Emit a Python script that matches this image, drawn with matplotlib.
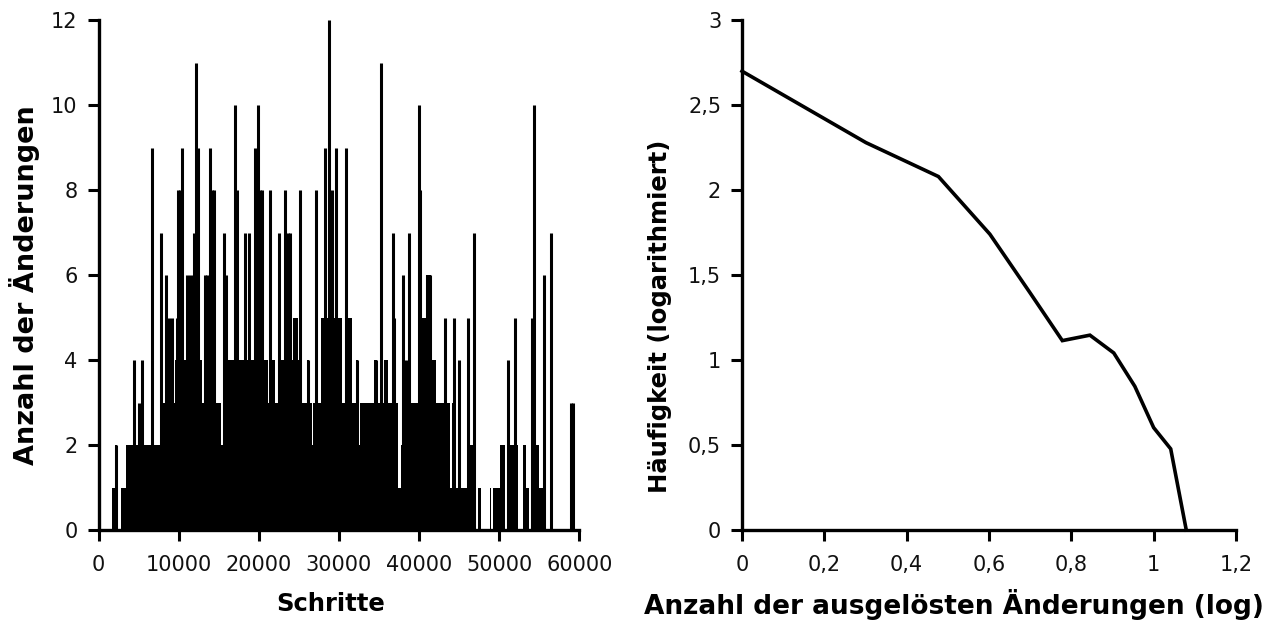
import numpy as np
import matplotlib
matplotlib.use("Agg")
import matplotlib.pyplot as plt

# ---------------- left panel data ----------------
# dense low-level background (segments: edges in steps, level = changes)
base_edges = [0, 1650, 2050, 2250, 2800, 3450, 7800, 9600, 12900, 13150, 14600,
              15300, 15600, 16000, 21100, 21350, 22000, 22500, 24300, 24850,
              25200, 26000, 26200, 26600, 26800, 27800, 30430, 30800, 31650,
              32100, 32350, 32650, 34400, 34800, 35650, 36050, 37400, 37700,
              37900, 40150, 40800, 41500, 42050, 43800, 44150, 44550, 44900,
              45200, 45950, 46900, 47400, 47750, 48800, 48950, 49150, 50100,
              50750, 51050, 52350, 52900, 53330, 53740, 54030, 54990, 55400,
              60000]
base_levels = [0, 1, 2, 0, 1, 2, 3, 4, 3, 4,
               3, 2, 3, 4, 3, 4, 3, 4, 5,
               4, 3, 4, 3, 2, 3, 5, 3, 5,
               3, 4, 2, 3, 4, 3, 4, 3, 1,
               2, 3, 5, 6, 4, 3, 1, 3, 1,
               2, 1, 2, 0, 1, 0, 1, 0, 1,
               2, 0, 2, 0, 2, 1, 0, 2, 1,
               0]

# individual spikes (step, number of changes)
spike_steps = [2160, 4470, 5050, 5470, 6710, 7790, 8410, 8780, 9150, 9740,
               9940, 10150, 10430, 11100, 11390, 11800, 11920, 12220, 12350,
               13300, 13550, 13870, 14200, 14450, 15610, 15950, 17060, 17250,
               18220, 18720, 19460, 19850, 20150, 20400, 21410, 22570, 23310,
               23650, 23900, 24550, 25180, 26080, 27120, 27950, 28240, 28780,
               29100, 29600, 30900, 32200, 34600, 35200, 35800, 36760, 36900,
               37970, 38300, 38710, 39950, 40150, 40450, 41000, 41300, 41750,
               43270, 44300, 45000, 46080, 46790, 51130, 51950, 54130, 54360,
               55570, 56390, 58900, 59230]
spike_counts = [2, 4, 3, 4, 9, 7, 6, 5, 5, 5,
                8, 8, 9, 6, 6, 6, 7, 11, 9,
                6, 6, 9, 8, 8, 7, 6, 10, 8,
                7, 7, 9, 10, 8, 8, 8, 7, 8,
                7, 7, 5, 8, 4, 8, 5, 9, 12,
                8, 9, 9, 4, 4, 11, 4, 7, 5,
                6, 4, 7, 10, 8, 5, 6, 6, 4,
                5, 5, 4, 5, 7, 4, 5, 5, 10,
                6, 7, 3, 3]

left_xticks = [0, 10000, 20000, 30000, 40000, 50000, 60000]
left_yticks = [0, 2, 4, 6, 8, 10, 12]

# ---------------- right panel data ----------------
changes = [1, 2, 3, 4, 5, 6, 7, 8, 9, 10, 11, 12]
frequency = [500, 190, 120, 55, 25, 13, 14, 11, 7, 4, 3, 1]

right_xticks = [0, 0.2, 0.4, 0.6, 0.8, 1.0, 1.2]
right_xlabels = ["0", "0,2", "0,4", "0,6", "0,8", "1", "1,2"]
right_yticks = [0, 0.5, 1, 1.5, 2, 2.5, 3]
right_ylabels = ["0", "0,5", "1", "1,5", "2", "2,5", "3"]

# ---------------- figure ----------------
plt.rcParams['font.family'] = ['DejaVu Sans']
W, H = 1274, 620
fig = plt.figure(figsize=(W / 100, H / 100), dpi=100)

ax1 = fig.add_axes([98.5 / W, 90 / H, 481 / W, 510 / H])
ax2 = fig.add_axes([742 / W, 90 / H, 494 / W, 510 / H])

ax1.stairs(base_levels, base_edges, fill=True, color='black', lw=0)
ax1.vlines(spike_steps, 0, spike_counts, color='black', lw=2.2, capstyle='butt')
ax1.set_xlim(0, 60000)
ax1.set_ylim(0, 12)
ax1.set_xticks(left_xticks)
ax1.set_xticklabels([str(v) for v in left_xticks])
ax1.set_yticks(left_yticks)
ax1.set_xlabel("Schritte", fontsize=17.5, fontweight='bold')
ax1.set_ylabel("Anzahl der Änderungen", fontsize=19.5, fontweight='bold')

lx = np.log10(changes)
ly = np.log10(frequency)
ax2.plot(lx, ly, color='black', lw=2.6, solid_joinstyle='miter', clip_on=False)
ax2.set_xlim(0, 1.2)
ax2.set_ylim(0, 3)
ax2.set_xticks(right_xticks)
ax2.set_xticklabels(right_xlabels)
ax2.set_yticks(right_yticks)
ax2.set_yticklabels(right_ylabels)
ax2.set_xlabel("Anzahl der ausgelösten Änderungen (log)", fontsize=19,
               fontweight='bold')
ax2.set_ylabel("Häufigkeit (logarithmiert)", fontsize=17.5, fontweight='bold')


def place_label(ax, label, px, py):
    # px, py: target centre in figure pixels (from top-left)
    bb = ax.get_position()
    x0, y0 = bb.x0 * W, (1 - bb.y1) * H
    w, h = bb.width * W, bb.height * H
    label.set_va('center')
    label.set_ha('center')
    return (px - x0) / w, 1 - (py - y0) / h


cx, cy = place_label(ax1, ax1.xaxis.label, 331, 604)
ax1.xaxis.set_label_coords(cx, cy)
cx, cy = place_label(ax1, ax1.yaxis.label, 25, 285)
ax1.yaxis.set_label_coords(cx, cy)
cx, cy = place_label(ax2, ax2.xaxis.label, 954, 605)
ax2.xaxis.set_label_coords(cx, cy)
cx, cy = place_label(ax2, ax2.yaxis.label, 660, 316)
ax2.yaxis.set_label_coords(cx, cy)

for ax in (ax1, ax2):
    for s in ('top', 'right'):
        ax.spines[s].set_visible(False)
    for s in ('left', 'bottom'):
        ax.spines[s].set_linewidth(2.4)
        ax.spines[s].set_color('black')
    ax.tick_params(axis='both', direction='out', length=8, width=2.2,
                   labelsize=15, pad=7, colors='black', labelcolor='#111111')
    ax.tick_params(axis='x', pad=10)

fig.savefig("out.png", dpi=100)
